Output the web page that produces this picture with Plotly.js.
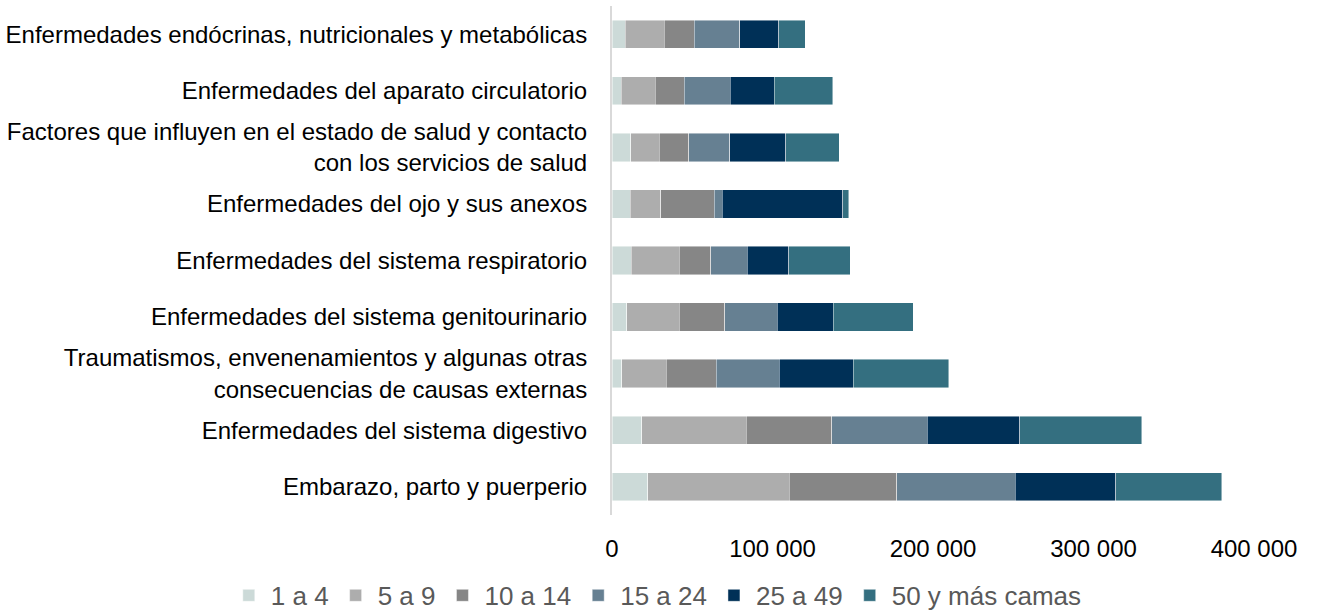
<!DOCTYPE html>
<html>
<head>
<meta charset="utf-8">
<script src="https://cdn.plot.ly/plotly-3.0.1.min.js"></script>
<style>html,body{margin:0;padding:0;background:#fff;}#chart{width:1320px;height:614px;}</style>
</head>
<body>
<div id="chart"></div>
<script>
// Categories, top to bottom as displayed
const categories = [
  "Enfermedades endócrinas, nutricionales y metabólicas",
  "Enfermedades del aparato circulatorio",
  "Factores que influyen en el estado de salud y contacto<br>con los servicios de salud",
  "Enfermedades del ojo y sus anexos",
  "Enfermedades del sistema respiratorio",
  "Enfermedades del sistema genitourinario",
  "Traumatismos, envenenamientos y algunas otras<br>consecuencias de causas externas",
  "Enfermedades del sistema digestivo",
  "Embarazo, parto y puerperio"
];
const seriesNames = ["1 a 4", "5 a 9", "10 a 14", "15 a 24", "25 a 49", "50 y más camas"];
const s1a4    = [8300, 5800, 11600, 11400, 12000, 9100, 6200, 18600, 22200];
const s5a9    = [24100, 21200, 17700, 18900, 29900, 32800, 27600, 65000, 88200];
const s10a14  = [18700, 17900, 18400, 33500, 19500, 28200, 31300, 53300, 67000];
const s15a24  = [28400, 28700, 25800, 5000, 22900, 32800, 39100, 59400, 73900];
const s25a49  = [24300, 27600, 34900, 75000, 25700, 35100, 46100, 57900, 62700];
const s50mas  = [16500, 36300, 33200, 3600, 38400, 49800, 59600, 76000, 66000];
const xTicks = [0, 100000, 200000, 300000, 400000];

const seriesValues = [s1a4, s5a9, s10a14, s15a24, s25a49, s50mas];
const colors = ["#CCDAD8", "#ADADAD", "#868686", "#668092", "#003057", "#346F80"];

const traces = seriesNames.map((name, i) => ({
  type: "bar",
  orientation: "h",
  name: name,
  y: categories,
  x: seriesValues[i],
  marker: { color: colors[i], line: { color: "rgba(255,255,255,0.6)", width: 0.75 } },
  hoverinfo: "skip"
}));

const font = "Liberation Sans, Arial, sans-serif";
const layout = {
  width: 1320,
  height: 614,
  margin: { l: 612, r: 66, t: 6, b: 99, autoexpand: false },
  barmode: "stack",
  bargap: 0.5,
  separators: ", ",
  paper_bgcolor: "#ffffff",
  plot_bgcolor: "#ffffff",
  font: { family: font, size: 24, color: "#000000" },
  showlegend: true,
  legend: {
    orientation: "h",
    x: -0.6, xanchor: "left",
    y: -0.158, yanchor: "middle",
    itemwidth: 34,
    font: { family: font, size: 26, color: "#595959" },
    traceorder: "normal",
    itemclick: false, itemdoubleclick: false
  },
  xaxis: {
    range: [0, 400000],
    tickvals: xTicks,
    tickformat: ",d",
    ticksuffix: "\u00a0",
    showgrid: false,
    zeroline: false,
    showline: false,
    ticks: "",
    ticklabelstandoff: 17,
    tickfont: { family: font, size: 24, color: "#000000" },
    fixedrange: true
  },
  yaxis: {
    autorange: "reversed",
    showgrid: false,
    zeroline: false,
    showline: true,
    linecolor: "#D9D9D9",
    linewidth: 2,
    ticks: "",
    ticklabelstandoff: 18,
    tickfont: { family: font, size: 24, color: "#000000" },
    fixedrange: true
  }
};

Plotly.newPlot("chart", traces, layout, { displayModeBar: false, staticPlot: true });
</script>
</body>
</html>
